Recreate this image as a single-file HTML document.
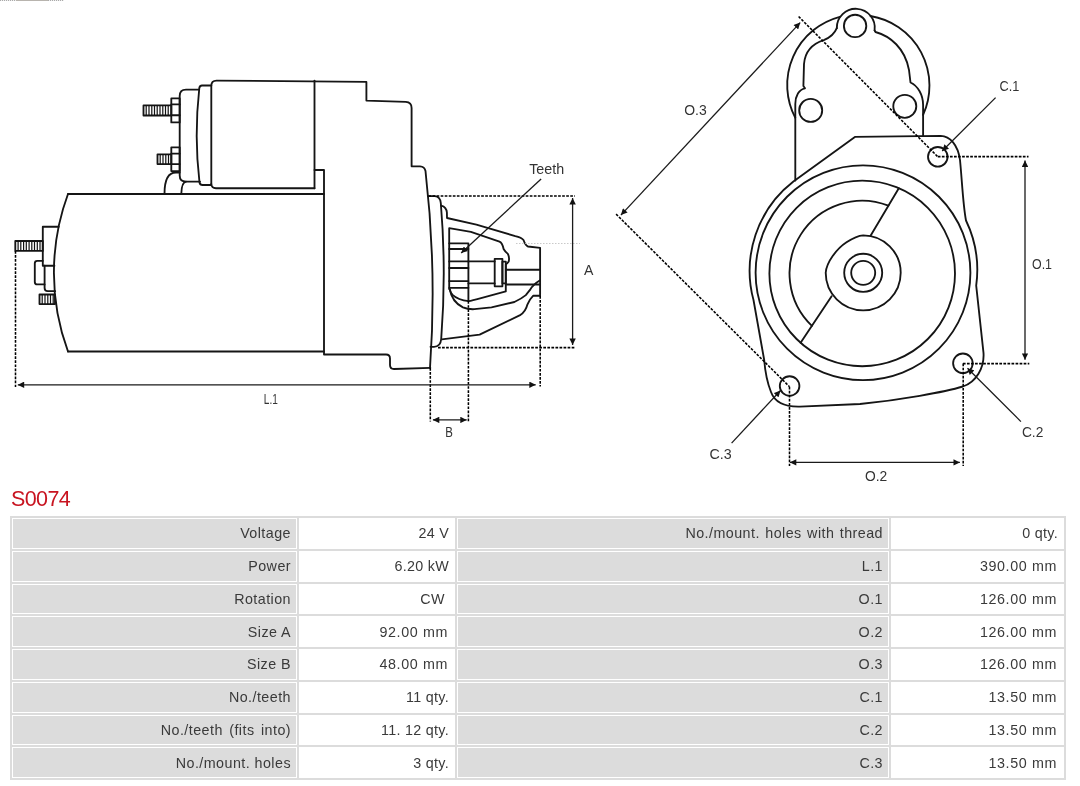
<!DOCTYPE html>
<html><head><meta charset="utf-8"><style>
html,body{margin:0;padding:0;background:#fff;}
body{width:1080px;height:786px;position:relative;overflow:hidden;font-family:"Liberation Sans",sans-serif;}
#title{will-change:transform;position:absolute;left:11px;top:487px;font-size:21.5px;color:#c81420;line-height:24px;letter-spacing:-0.6px;}
#tbl{will-change:transform;position:absolute;left:10px;top:516px;width:1052px;height:260px;padding:2px;background:#dcdcdc;display:grid;
grid-template-columns:285px 156px 432px 173px;grid-template-rows:repeat(8,1fr);column-gap:2px;row-gap:2px;}
#tbl div{border:1px solid #fff;background:#dcdcdc;text-align:right;padding-right:5px;font-size:14.3px;letter-spacing:0.45px;color:#3a3a3a;
display:flex;align-items:center;justify-content:flex-end;white-space:pre;}
#tbl div.v{background:#fff;letter-spacing:0.3px;}
#tbl div.m{letter-spacing:0.62px;padding-right:6px;}
svg{position:absolute;left:0;top:0;will-change:transform;}
svg text{font-family:"Liberation Sans",sans-serif;font-size:14.5px;fill:#333;}
</style></head><body>
<svg width="1080" height="500" viewBox="0 0 1080 500">
<defs>
<marker id="ar" viewBox="0 0 10 10" refX="10" refY="5" markerWidth="7" markerHeight="6.4" markerUnits="userSpaceOnUse" orient="auto-start-reverse">
<path d="M0,0 L10,5 L0,10 Z" fill="#111" stroke="none"/></marker>
</defs>
<path d="M0,0.5 H16 M48,0.5 H64" stroke="#aaa" stroke-width="1" stroke-dasharray="1.2 0.8"/><path d="M16,0.5 H48" stroke="#b8b4ae" stroke-width="1"/>
<!-- LEFT DRAWING -->
<g fill="none" stroke="#151515" stroke-width="1.85" stroke-linejoin="round" stroke-linecap="round">
<!-- motor body -->
<path d="M68,194 H324"/>
<path d="M68,351.5 H324"/>
<path d="M68,194 A227,227 0 0 0 68,351.5"/>
<path d="M314.5,170 H324 V354.5 H386 Q390,354.5 390,358.5 V365 Q390,369 394,369 L430.3,367.8"/>
<!-- end cap -->
<path d="M58.7,226.7 H42.8 V265.7 H54.4"/>
<path d="M42.8,260.8 H37.3 Q34.8,260.8 34.8,263.3 V281.9 Q34.8,284.4 37.3,284.4 H44.6"/>
<path d="M44.6,265.7 V288 Q44.6,291.1 47.7,291.1 H55.2"/>
<rect x="15.3" y="241" width="27.5" height="9.9"/>
<rect x="39.5" y="294.5" width="15.5" height="9.6"/>
<!-- solenoid -->
<path d="M198.9,89.6 H186 Q179.7,89.6 179.7,96 V175.5 Q179.7,181.6 186,181.6 H200"/>
<path d="M211.3,85.5 H202 Q199.8,85.5 199.3,88 Q194,136 199.5,182.5 Q200,185 202.5,185 H211.3"/>
<path d="M211.3,184 V86 Q211.3,80.6 216.5,80.6 L366.4,81.9 V100.6 L405.8,101.8 Q411.6,102 411.6,108 V166.3 H420 Q424.6,166.5 425.5,171 Q437,270 430,368"/>
<path d="M211.3,184 Q211.5,188.2 216,188.2 H314.5"/>
<path d="M314.5,80.6 V188.3"/>
<rect x="171.3" y="98.4" width="8.4" height="24"/>
<path d="M171.3,104.4 H179.7 M171.3,115.2 H179.7"/>
<rect x="143.5" y="105.4" width="27.8" height="10.1"/>
<rect x="171.3" y="147.3" width="8.4" height="23.8"/>
<path d="M171.3,153.6 H179.7 M171.3,164.1 H179.7"/>
<rect x="157.5" y="154.3" width="13.8" height="9.8"/>
<path d="M164.5,193.7 C164.5,180 168,172.5 176,172.5 H179.7"/>
<path d="M181.3,193.7 C181.5,187 183,182 186,181.6"/>
<!-- flange + pinion -->
<path d="M427.8,196.1 H434.9 Q440.2,196.5 440.8,203 Q446.5,271 441.2,339 Q440.5,346.8 434,346.8 H430.5"/>
<path d="M441.2,205.6 Q446.5,207 446.9,212.5 L447,218 L476.4,224.7 L515.3,236.1 Q521.5,237.5 523.5,240 Q525.5,245.7 528,246.5 L540.1,247.8 V295.7 H533.3 Q529.3,299.7 527.5,304.3 Q525.5,312 520.1,315.1 L479.6,334.7 L441.8,339.3"/>
<path d="M449.2,289 V228.2 L470.9,231.9 L499.5,241.6 Q502.4,243 503.6,249 Q505,251.5 507.6,253.6 Q509.8,257 508.7,261.6 Q507.5,263.5 505.8,264.5 V291.4 Q497.3,293.7 480.1,298.3 Q472,300.5 468.6,301.1 Q458,300 452.6,294.8 Q450,292 449.7,289"/>
<path d="M449.7,289 Q452,302 462.9,307.4 Q468,309.5 474.4,309.2 L491.5,307.4 L514.4,302 Q521,299 525.8,295.1 L530.4,289.4 Q533,284.5 540.1,280.2"/>
<path d="M449.2,243.3 H468.4 V301.1"/>
<path d="M449.2,249 H468.4 M449.2,261.4 H468.4 M449.2,268 H468.4 M449.2,281.1 H468.4 M449.2,287.8 H468.4"/>
<path d="M468.4,261.4 H494.7 M468.4,283.4 H494.7"/>
<rect x="494.7" y="258.8" width="7.7" height="27.5"/>
<rect x="502.4" y="261.6" width="3.4" height="21.8"/>
<path d="M505.8,269.7 H540.1 M505.8,284.5 H540.1"/>
</g>
<!-- hatch -->
<g stroke="#111" stroke-width="1.2">
<path d="M18.1,241 V250.9 M20.8,241 V250.9 M23.6,241 V250.9 M26.3,241 V250.9 M29.1,241 V250.9 M31.8,241 V250.9 M34.5,241 V250.9 M37.3,241 V250.9 M40.0,241 V250.9 M42.2,294.5 V304.1 M45.0,294.5 V304.1 M47.8,294.5 V304.1 M50.5,294.5 V304.1 M53.2,294.5 V304.1 M146.2,105.4 V115.5 M149.0,105.4 V115.5 M151.8,105.4 V115.5 M154.5,105.4 V115.5 M157.2,105.4 V115.5 M160.0,105.4 V115.5 M162.8,105.4 V115.5 M165.5,105.4 V115.5 M168.2,105.4 V115.5 M160.2,154.3 V164.1 M163.0,154.3 V164.1 M165.8,154.3 V164.1 M168.5,154.3 V164.1"/>
</g>
<!-- RIGHT DRAWING -->
<g fill="none" stroke="#151515" stroke-width="1.85" stroke-linejoin="round" stroke-linecap="round">
<path d="M795.3,117.8 A70.5,70.5 0 0 1 839.8,16.8"/>
<path d="M870.4,16 A70.5,70.5 0 0 1 923.1,114.8"/>
<path d="M836.8,28.2 A19,19 0 1 1 874.6,30.5"/>
<path d="M836.8,28.2 C834,35 828,38.5 823.8,40.2 C812,44 805,52 804,64 L803.4,86 L805,88.3 C799,89.5 795.3,96 795.3,104 V180.6"/>
<path d="M874.6,30.5 L875.5,32 C890,36 905,48 909,70 L910.5,82.5 C918,86 923.1,95 923.1,105 V135.8"/>
<circle cx="855.1" cy="25.9" r="11.2"/>
<circle cx="810.7" cy="110.4" r="11.5"/>
<circle cx="904.8" cy="106.3" r="11.5"/>
<path d="M854.9,136.9 L940.7,135.8 C950,136 958,145 960,160 C962,180 963,205 966,220.5 A114.5,114.5 0 0 1 976.2,285.6 L983.5,352.9 C984.5,368 976,382 962.9,386.5 C945,392 900,400 860,404 L800,406.6 C785,407 775,403 771,392 C767,382 765,370 764.2,360 L753.5,300 A113,113 0 0 1 793.4,181.5 L854.9,136.9 Z"/>
<circle cx="863" cy="272.7" r="107.4"/>
<circle cx="862.2" cy="273.4" r="92.8"/>
<path d="M811.9,325.8 A72.6,72.6 0 0 1 888.4,205.7"/>
<path d="M800.6,342.8 L831.6,296.3 M870.7,235.5 L898.8,188.3"/>
<path d="M863.2,235.3 A37.5,37.5 0 1 1 825.7,272.8 C826.5,262 837,248.5 846.5,242.3 C852.5,238.3 858,235.6 863.2,235.3 Z"/>
<circle cx="863.2" cy="272.8" r="19"/>
<circle cx="863.2" cy="272.8" r="12"/>
<circle cx="937.8" cy="156.8" r="9.8"/>
<circle cx="962.9" cy="363.3" r="9.8"/>
<circle cx="789.6" cy="386" r="9.8"/>
</g>
<!-- dotted lines -->
<g fill="none" stroke="#000" stroke-width="1.55" stroke-dasharray="2.7 1.35">
<path d="M15.5,251 V387"/>
<path d="M540.2,296 V386.5"/>
<path d="M430.3,368 V421.5"/>
<path d="M468.4,301.1 V422"/>
<path d="M428.5,196 H575"/>
<path d="M438,347.6 H575"/>
<path d="M616.1,214.1 L789.5,386.7"/>
<path d="M798.6,16.5 L937.8,156.8"/>
<path d="M937.8,156.6 H1028.5"/>
<path d="M962.9,363.6 H1029.3"/>
<path d="M789.5,386.7 V466"/>
<path d="M963.2,363.6 V466"/>
</g>
<path d="M516,243.5 H580" stroke="#bbb" stroke-width="0.8" stroke-dasharray="1.5 1.5"/>
<!-- dimension lines -->
<g fill="none" stroke="#1a1a1a" stroke-width="1.3">
<path d="M17.8,384.8 H535.7" marker-start="url(#ar)" marker-end="url(#ar)"/>
<path d="M432.9,419.9 H466.7" marker-start="url(#ar)" marker-end="url(#ar)"/>
<path d="M572.6,198 V345" marker-start="url(#ar)" marker-end="url(#ar)"/>
<path d="M541.1,178.9 L461.2,253.1" marker-end="url(#ar)"/>
<path d="M620.9,215.1 L800.2,22.6" marker-start="url(#ar)" marker-end="url(#ar)"/>
<path d="M1025,160.6 V359.8" marker-start="url(#ar)" marker-end="url(#ar)"/>
<path d="M789.9,462.4 H959.9" marker-start="url(#ar)" marker-end="url(#ar)"/>
<path d="M995.6,97.6 L942.2,151" marker-end="url(#ar)"/>
<path d="M1020.9,421.6 L967.5,368.2" marker-end="url(#ar)"/>
<path d="M731.6,443.1 L780.5,390.5" marker-end="url(#ar)"/>
</g>
<!-- labels -->
<text x="529.2" y="173.8" textLength="35" lengthAdjust="spacingAndGlyphs">Teeth</text>
<text x="584" y="275" textLength="9.4" lengthAdjust="spacingAndGlyphs">A</text>
<text x="445.3" y="436.5" textLength="7.6" lengthAdjust="spacingAndGlyphs">B</text>
<text x="263.8" y="403.6" textLength="14" lengthAdjust="spacingAndGlyphs">L.1</text>
<text x="684.2" y="115.2" textLength="22.5" lengthAdjust="spacingAndGlyphs">O.3</text>
<text x="999.5" y="90.7" textLength="19.8" lengthAdjust="spacingAndGlyphs">C.1</text>
<text x="1032" y="269" textLength="20" lengthAdjust="spacingAndGlyphs">O.1</text>
<text x="1021.9" y="436.9" textLength="21.4" lengthAdjust="spacingAndGlyphs">C.2</text>
<text x="709.4" y="459" textLength="22.2" lengthAdjust="spacingAndGlyphs">C.3</text>
<text x="865" y="481.4" textLength="22.3" lengthAdjust="spacingAndGlyphs">O.2</text>
</svg>
<div id="title">S0074</div>
<div id="tbl">
<div>Voltage</div><div class="v">24 V</div><div style="word-spacing:1px">No./mount. holes with thread</div><div class="v">0 qty.</div>
<div>Power</div><div class="v">6.20 kW</div><div>L.1</div><div class="v m">390.00 mm</div>
<div>Rotation</div><div class="v">CW </div><div>O.1</div><div class="v m">126.00 mm</div>
<div>Size A</div><div class="v m">92.00 mm</div><div>O.2</div><div class="v m">126.00 mm</div>
<div>Size B</div><div class="v m">48.00 mm</div><div>O.3</div><div class="v m">126.00 mm</div>
<div>No./teeth</div><div class="v">11 qty.</div><div>C.1</div><div class="v m">13.50 mm</div>
<div style="word-spacing:2px">No./teeth (fits into)</div><div class="v">11. 12 qty.</div><div>C.2</div><div class="v m">13.50 mm</div>
<div>No./mount. holes</div><div class="v">3 qty.</div><div>C.3</div><div class="v m">13.50 mm</div>
</div>
</body></html>
